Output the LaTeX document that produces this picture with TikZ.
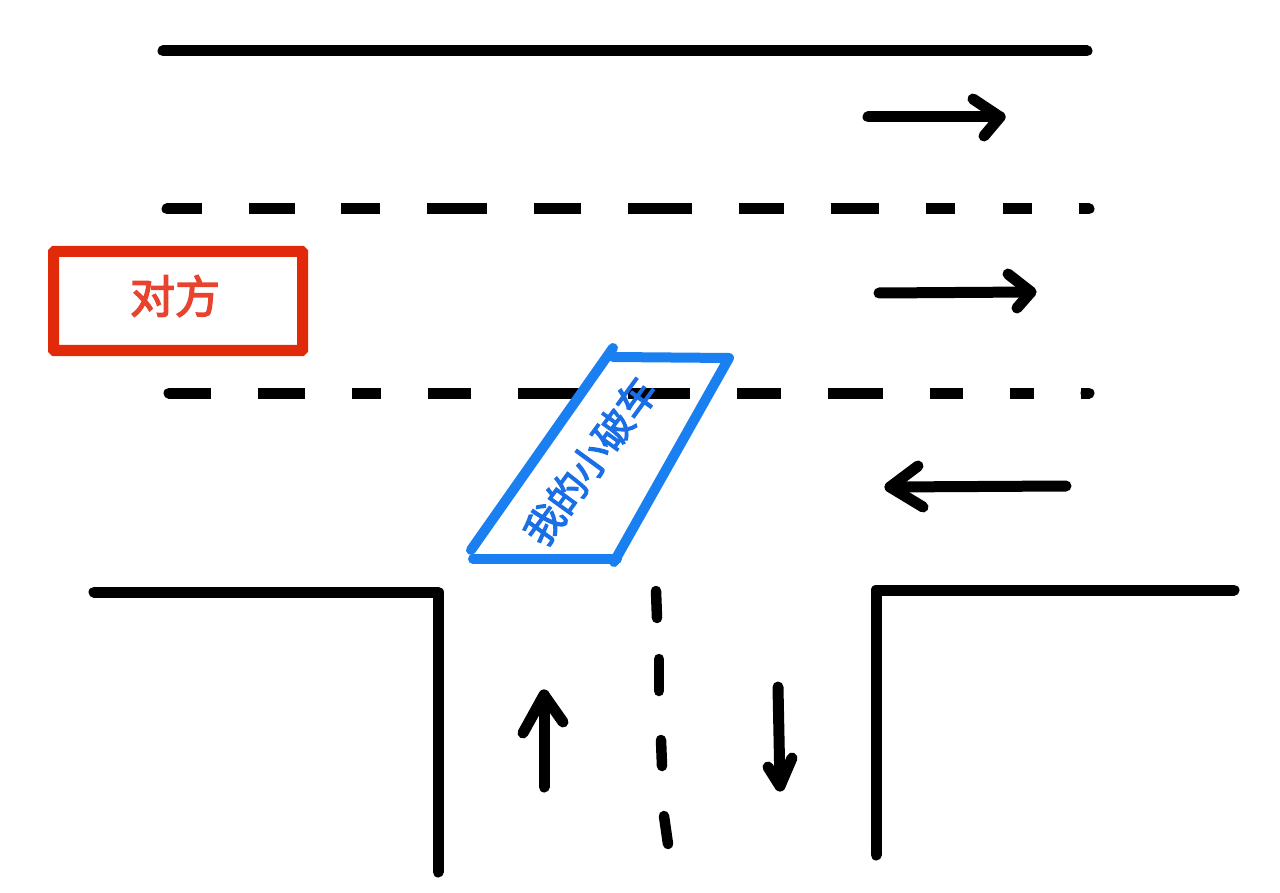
\documentclass[tikz,border=0pt]{standalone}
\usepackage{fontspec}
\newfontfamily\cjk[FakeBold=3]{Noto Sans CJK SC}
\definecolor{carblue}{HTML}{1A7FF0}
\definecolor{cartext}{HTML}{1B6FE6}
\definecolor{otherred}{HTML}{E02A0A}
\definecolor{othertext}{HTML}{E8432F}
\tikzset{
  roadline/.style={line width=11pt, line cap=round, line join=round, black},
  lanedash/.style={line width=11pt, black},
  lanecap/.style={lanedash, line cap=round},
  centerdash/.style={line width=10.5pt, line cap=round, black},
  carline/.style={line width=10pt, line cap=round, line join=round, carblue},
}

\begin{document}
\begin{tikzpicture}[x=1pt, y=-1pt]
  \useasboundingbox (0,0) rectangle (1280,893);

  % road edges
  \draw[roadline] (163,51) -- (1087,51); %
  \draw[roadline] (94,592) -- (438,592) -- (438,872); %
  \draw[roadline] (876,855) -- (876,590) -- (1234,590); %

  % lane dashes
  \foreach \xa/\xb in {167/202, 249/295, 341/380, 427/487, 534/581, 628/692, 739/784, 831/879, 926/955, 1003/1032, 1079/1089}
    \draw[lanedash] (\xa,209) -- (\xb,209); %
  \foreach \xa/\xb in {169/211, 258/305, 352/381, 428/471, 518/580, 628/690, 737/781, 828/883, 930/963, 1010/1034, 1081/1089}
    \draw[lanedash] (\xa,393) -- (\xb,393); %
  \draw[lanecap] (167,209) -- (170,209); %
  \draw[lanecap] (1086,209) -- (1089,209); %
  \draw[lanecap] (169,393) -- (172,393); %
  \draw[lanecap] (1086,393) -- (1089,393); %

  % centre line of the side road
  \foreach \xa/\ya/\xb/\yb in {656/591/657/618, 659/659/659/691, 661/740/662/766, 664/816/668/844}
    \draw[centerdash] (\xa,\ya) -- (\xb,\yb); %

  % direction arrows: tail, tip, two barbs
  \foreach \xs/\ys/\xt/\yt/\xu/\yu/\xv/\yv in {
    868/117/1000/117/973/99/984/136,
    879/293/1031/292/1008/274/1017/308,
    1066/486/890/487/918/466/923/507,
    544/787/544/695/523/733/563/722,
    778/687/780/786/768/767/792/758}
  {
    \draw[roadline] (\xs,\ys) -- (\xt,\yt); %
    \draw[roadline] (\xu,\yu) -- (\xt,\yt) -- (\xv,\yv); %
  }

  % the other car
  \node[draw=otherred, line width=11pt, rounded corners=1pt, minimum width=249pt, minimum height=99pt, inner sep=0pt] (other) at (178,301) {}; %
  \node[text=othertext, font=\cjk\fontsize{45}{45}\selectfont, inner sep=0pt] (otherlabel) at (175,296) {对方}; %

  % my car
  \draw[carline] (613,348) -- (471,550); %
  \draw[carline] (613,357) -- (729,358) -- (614,562); %
  \draw[carline] (473,559) -- (617,559); %
  \node[text=cartext, font=\cjk\fontsize{39}{39}\selectfont, rotate=54, inner sep=0pt] (carlabel) at (590,461) {我的小破车}; %

\end{tikzpicture}
\end{document}
